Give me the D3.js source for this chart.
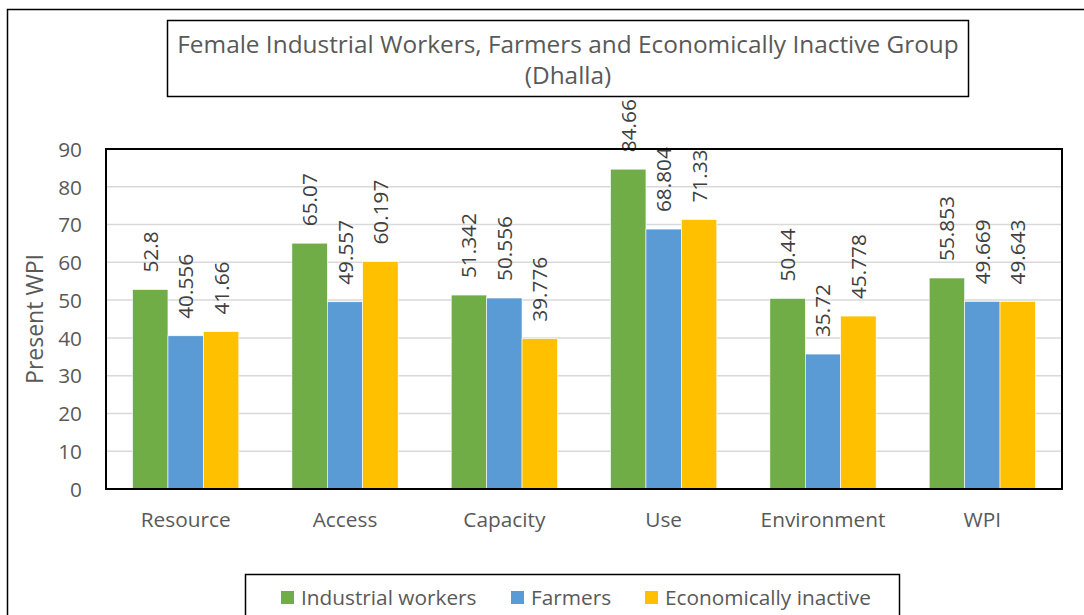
<!DOCTYPE html>
<html>
<head>
<meta charset="utf-8">
<script src="https://cdn.jsdelivr.net/npm/d3@7/dist/d3.min.js"></script>
<style>
  html, body { margin: 0; padding: 0; background: #fff; }
  svg { display: block; font-family: "Open Sans", "Noto Sans", sans-serif; }
</style>
</head>
<body>
<svg id="chart" width="1084" height="615"></svg>
<script>
// Women's empowerment (WPI) components by occupational group, Dhalla
const categories = ["Resource", "Access", "Capacity", "Use", "Environment", "WPI"];
const seriesNames = ["Industrial workers", "Farmers", "Economically inactive"];
const industrialWorkers = [52.8, 65.07, 51.342, 84.66, 50.44, 55.853];
const farmers = [40.556, 49.557, 50.556, 68.804, 35.72, 49.669];
const economicallyInactive = [41.66, 60.197, 39.776, 71.33, 45.778, 49.643];
const valueLabels = [
  ["52.8", "65.07", "51.342", "84.66", "50.44", "55.853"],
  ["40.556", "49.557", "50.556", "68.804", "35.72", "49.669"],
  ["41.66", "60.197", "39.776", "71.33", "45.778", "49.643"]
];
const yTicks = [0, 10, 20, 30, 40, 50, 60, 70, 80, 90];
const colors = ["#70ad47", "#5b9bd5", "#ffc000"];
const titleLines = ["Female Industrial Workers, Farmers and Economically Inactive Group", "(Dhalla)"];
const yAxisTitle = "Present WPI";

const series = [industrialWorkers, farmers, economicallyInactive];

const svg = d3.select("#chart");
const plot = { left: 106, right: 1062, top: 149, bottom: 489 };
const FONT = 20.8;

// Outer chart frame
svg.append("rect")
  .attr("x", 7.5).attr("y", 9.5).attr("width", 1100).attr("height", 700)
  .attr("fill", "none").attr("stroke", "#000").attr("stroke-width", 1.5);

const x0 = d3.scaleBand().domain(categories).range([plot.left, plot.right]).paddingInner(0.3333).paddingOuter(0.1667);
const x1 = d3.scaleBand().domain(seriesNames).range([0, x0.bandwidth()]);
const y = d3.scaleLinear().domain([0, 90]).range([plot.bottom, plot.top]);

// Gridlines
svg.append("g").selectAll("line").data(yTicks.filter(t => t > 0 && t < 90)).join("line")
  .attr("x1", plot.left).attr("x2", plot.right)
  .attr("y1", d => y(d)).attr("y2", d => y(d))
  .attr("stroke", "#d9d9d9").attr("stroke-width", 1.5);

// Bars
const groups = svg.append("g").selectAll("g").data(categories).join("g")
  .attr("transform", d => `translate(${x0(d)},0)`);

groups.selectAll("rect")
  .data((c, i) => series.map((s, k) => ({ name: seriesNames[k], value: s[i], k })))
  .join("rect")
  .attr("x", d => x1(d.name))
  .attr("width", x1.bandwidth())
  .attr("y", d => y(d.value))
  .attr("height", d => y(0) - y(d.value))
  .attr("fill", d => colors[d.k])
  .attr("stroke", "#fff").attr("stroke-width", 0.6);

// Plot area border
svg.append("rect")
  .attr("x", plot.left).attr("y", plot.top)
  .attr("width", plot.right - plot.left).attr("height", plot.bottom - plot.top)
  .attr("fill", "none").attr("stroke", "#000").attr("stroke-width", 2);

// Value labels, rotated
groups.selectAll("text")
  .data((c, i) => series.map((s, k) => ({ name: seriesNames[k], value: s[i], label: valueLabels[k][i] })))
  .join("text")
  .attr("transform", d => `translate(${x1(d.name) + x1.bandwidth() / 2 + 7.5},${y(d.value) - 17}) rotate(-90)`)
  .attr("text-anchor", "start")
  .attr("font-size", FONT)
  .attr("fill", "#404040")
  .text(d => d.label);

// Y axis
const yAxis = d3.axisLeft(y).tickValues(yTicks).tickSize(0).tickPadding(24);
const yg = svg.append("g").attr("transform", `translate(${plot.left},0)`).call(yAxis);
yg.select(".domain").remove();
yg.selectAll("text").attr("font-size", FONT).attr("fill", "#595959")
  .attr("font-family", "'Open Sans', sans-serif").attr("dy", "0.35em");

// X axis labels
const xAxis = d3.axisBottom(x0).tickSize(0).tickPadding(0);
const xg = svg.append("g").attr("transform", `translate(0,${plot.bottom})`).call(xAxis);
xg.select(".domain").remove();
xg.selectAll("text").attr("font-size", FONT).attr("fill", "#595959")
  .attr("font-family", "'Open Sans', sans-serif")
  .attr("y", 38).attr("dy", 0);

// Y axis title
svg.append("text")
  .attr("transform", `translate(43,${(plot.top + plot.bottom) / 2}) rotate(-90)`)
  .attr("text-anchor", "middle")
  .attr("font-size", 23).attr("fill", "#595959")
  .text(yAxisTitle);

// Title box
svg.append("rect")
  .attr("x", 167.5).attr("y", 20.5).attr("width", 801).attr("height", 76)
  .attr("fill", "#fff").attr("stroke", "#000").attr("stroke-width", 1.5);
svg.append("g").selectAll("text").data(titleLines).join("text")
  .attr("x", 568).attr("y", (d, i) => 53 + i * 31)
  .attr("text-anchor", "middle")
  .attr("font-size", 24.4).attr("fill", "#595959")
  .text(d => d);

// Legend
svg.append("rect")
  .attr("x", 245.5).attr("y", 574.5).attr("width", 654).attr("height", 60)
  .attr("fill", "#fff").attr("stroke", "#000").attr("stroke-width", 1.5);
const legendX = [281, 511, 645];
const lg = svg.append("g").selectAll("g").data(seriesNames).join("g")
  .attr("transform", (d, i) => `translate(${legendX[i]},591)`);
lg.append("rect").attr("width", 13).attr("height", 13).attr("fill", (d, i) => colors[i]);
lg.append("text").attr("x", 20).attr("y", 13.5)
  .attr("font-size", FONT).attr("fill", "#595959").text(d => d);
</script>
</body>
</html>
